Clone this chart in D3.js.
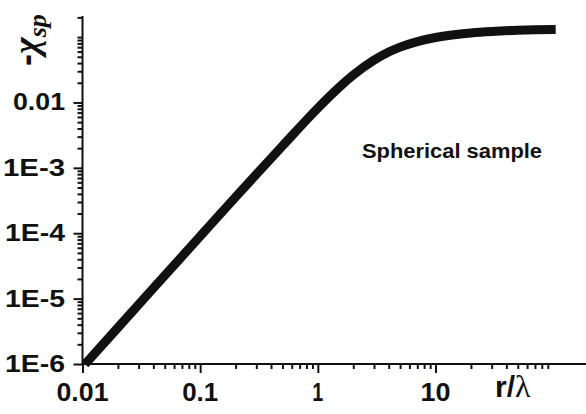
<!DOCTYPE html>
<html>
<head>
<meta charset="utf-8">
<script src="https://cdn.jsdelivr.net/npm/d3@7"></script>
<style>
  body { margin: 0; background: #fff; }
  text { font-family: "Liberation Sans", Arial, sans-serif; font-weight: bold; fill: #111; }
</style>
</head>
<body>
<script>
// values (r/lambda vs -chi_sp, log-log)
var rOverLambda = [0.0105, 0.02, 0.05, 0.1, 0.2, 0.5, 1, 1.5, 2, 3, 4, 5, 7, 10, 15, 20, 30, 50, 70, 100, 105];
var chiSp = [9.9e-7, 3.6e-6, 2.25e-5, 9.0e-5, 3.58e-4, 2.16e-3, 8.2e-3, 0.0167, 0.0262, 0.0443, 0.059, 0.0702,
             0.0854, 0.0986, 0.1098, 0.1158, 0.122, 0.1271, 0.1293, 0.131, 0.1312];

var xMajor = [0.01, 0.1, 1, 10];
var xLabels = ["0.01", "0.1", "1", "10"];
var yMajor = [1e-6, 1e-5, 1e-4, 1e-3, 0.01];
var yLabels = ["1E-6", "1E-5", "1E-4", "1E-3", "0.01"];

var w = 586;
var h = 414;

var svg = d3.select("body")
  .append("svg")
  .attr("width", w)
  .attr("height", h);

var x = d3.scaleLog().domain([0.01, 190]).range([82.5, 586]);
var y = d3.scaleLog().domain([1e-6, 0.21]).range([364, 16]);

// minor ticks 2..9 in every decade
var xMinor = [];
[0.01, 0.1, 1, 10].forEach(function(d) {
  for (var k = 2; k <= 9; k++) xMinor.push(d * k);
});
var yMinor = [];
[1e-6, 1e-5, 1e-4, 1e-3, 0.01, 0.1].forEach(function(d) {
  for (var k = (d === 0.1 ? 1 : 2); k <= 9; k++) {
    if (d * k <= 0.2001) yMinor.push(d * k);
  }
});

function styleAxis(g) {
  g.select(".domain").remove();
  g.selectAll("line").attr("stroke", "#111").attr("stroke-width", 2);
}

svg.append("g")
  .attr("transform", "translate(0,364)")
  .call(d3.axisBottom(x).tickValues(xMinor).tickSize(5).tickFormat(""))
  .call(styleAxis);
svg.append("g")
  .attr("transform", "translate(0,364)")
  .call(d3.axisBottom(x).tickValues(xMajor).tickSize(9).tickFormat(""))
  .call(styleAxis);

svg.append("g")
  .attr("transform", "translate(82.5,0)")
  .call(d3.axisLeft(y).tickValues(yMinor).tickSize(5).tickFormat(""))
  .call(styleAxis);
svg.append("g")
  .attr("transform", "translate(82.5,0)")
  .call(d3.axisLeft(y).tickValues(yMajor).tickSize(9).tickFormat(""))
  .call(styleAxis);

// axis lines
svg.append("line")
  .attr("x1", 82.5).attr("y1", 364).attr("x2", w).attr("y2", 364)
  .attr("stroke", "#111").attr("stroke-width", 2);
svg.append("line")
  .attr("x1", 82.5).attr("y1", 16).attr("x2", 82.5).attr("y2", 365)
  .attr("stroke", "#111").attr("stroke-width", 2);

// tick labels
var xLabW = [52, 36, 11, 30];
svg.selectAll(".xlab")
  .data(xMajor)
  .enter()
  .append("text")
  .attr("class", "xlab")
  .attr("x", function(d) { return x(d); })
  .attr("y", 401)
  .attr("text-anchor", "middle")
  .attr("font-size", 26)
  .attr("textLength", function(d, i) { return xLabW[i]; })
  .attr("lengthAdjust", "spacingAndGlyphs")
  .text(function(d, i) { return xLabels[i]; });

var yLabW = [60, 60, 60, 62, 52];
svg.selectAll(".ylab")
  .data(yMajor)
  .enter()
  .append("text")
  .attr("class", "ylab")
  .attr("x", 65)
  .attr("y", function(d) { return y(d) + 8; })
  .attr("text-anchor", "end")
  .attr("font-size", 24)
  .attr("textLength", function(d, i) { return yLabW[i]; })
  .attr("lengthAdjust", "spacingAndGlyphs")
  .text(function(d, i) { return yLabels[i]; });

// curve
var pts = rOverLambda.map(function(d, i) { return [d, chiSp[i]]; });
var line = d3.line()
  .x(function(d) { return x(d[0]); })
  .y(function(d) { return y(d[1]); })
  .curve(d3.curveMonotoneX);

svg.append("path")
  .datum(pts)
  .attr("d", line)
  .attr("fill", "none")
  .attr("stroke", "#111")
  .attr("stroke-width", 9);

// annotation
svg.append("text")
  .attr("x", 362)
  .attr("y", 158)
  .attr("font-size", 21)
  .attr("textLength", 180)
  .attr("lengthAdjust", "spacingAndGlyphs")
  .text("Spherical sample");

// x title
var xt = svg.append("text").attr("x", 495).attr("y", 397);
xt.append("tspan").attr("font-size", 30).text("r/");
xt.append("tspan")
  .style("font-family", "'Liberation Serif', 'Times New Roman', serif")
  .style("font-weight", "normal")
  .attr("font-size", 32)
  .text("λ");

// y title
var yt = svg.append("text").attr("transform", "translate(38,66) rotate(-90)");
yt.append("tspan").attr("font-size", 36).text("-");
yt.append("tspan")
  .style("font-family", "'Liberation Serif', 'Times New Roman', serif")
  .style("font-style", "italic")
  .attr("font-size", 36)
  .text("χ");
yt.append("tspan")
  .style("font-family", "'Liberation Serif', 'Times New Roman', serif")
  .style("font-style", "italic")
  .attr("font-size", 26)
  .attr("dy", 8)
  .text("sp");
</script>
</body>
</html>
